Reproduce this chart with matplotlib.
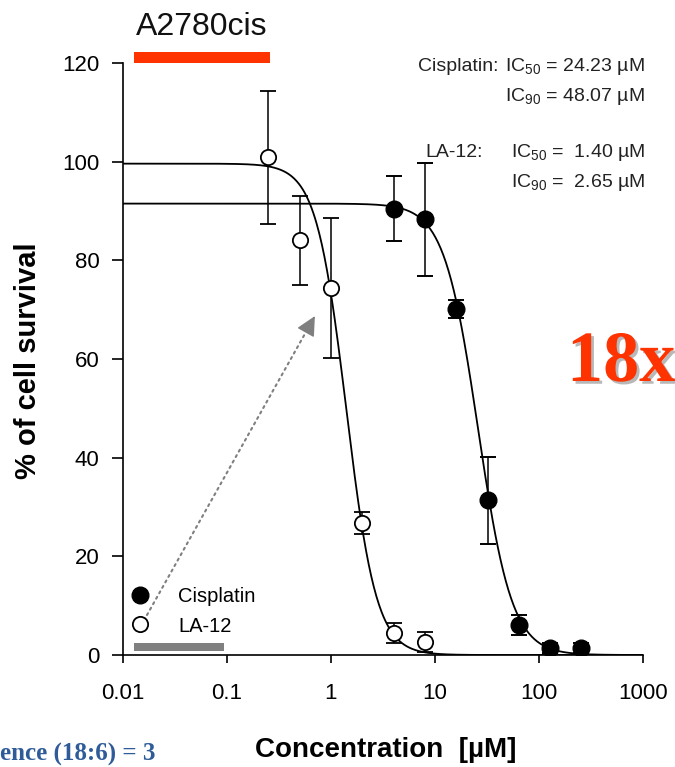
import numpy as np
import matplotlib
matplotlib.use("Agg")
import matplotlib.pyplot as plt
from matplotlib import patheffects
from matplotlib.patches import Rectangle
from matplotlib.lines import Line2D

plt.rcParams['font.family'] = ['Liberation Sans', 'DejaVu Sans']
plt.rcParams['mathtext.fontset'] = 'custom'
plt.rcParams['mathtext.rm'] = 'Liberation Sans'
plt.rcParams['mathtext.default'] = 'regular'

# ---- data ----
la12_conc = [0.25, 0.5, 1, 2, 4, 8]
la12_surv = [100.9, 84.1, 74.4, 26.7, 4.5, 2.7]
la12_err = [13.5, 9.0, 14.1, 2.2, 2.0, 2.0]

cis_conc = [4, 8, 16, 32, 64, 128, 256]
cis_surv = [90.5, 88.3, 70.1, 31.4, 6.1, 1.4, 1.4]
cis_err = [6.5, 11.4, 1.8, 8.8, 2.0, 1.0, 1.0]

# dose-response fit parameters (top plateau, IC50, IC90, Hill slope)
la12_top, la12_ic50, la12_ic90, la12_hill = 99.6, 1.40, 2.65, 3.0
cis_top, cis_ic50, cis_ic90, cis_hill = 91.5, 24.23, 48.07, 2.66

x_ticks = [0.01, 0.1, 1, 10, 100, 1000]
x_tick_labels = ["0.01", "0.1", "1", "10", "100", "1000"]
y_ticks = [0, 20, 40, 60, 80, 100, 120]


def logistic(x, top, ic50, hill):
    # midpoint chosen so that the curve crosses 50 % survival at ic50
    c = ic50 * (top / 50.0 - 1.0) ** (-1.0 / hill)
    return top / (1.0 + (x / c) ** hill)


W, H = 675, 767
fig = plt.figure(figsize=(W / 100, H / 100), dpi=100)
ax = fig.add_axes([123 / W, 1 - 655 / H, 520 / W, 592 / H])

xs = np.logspace(-2, 3, 600)
ax.plot(xs, logistic(xs, cis_top, cis_ic50, cis_hill), color='black', lw=1.3, zorder=2)
ax.plot(xs, logistic(xs, la12_top, la12_ic50, la12_hill), color='black', lw=1.3, zorder=2)

ax.errorbar(cis_conc, cis_surv, yerr=cis_err, fmt='o', ms=12, mfc='black', mec='black',
            ecolor='black', elinewidth=1.1, capsize=6, capthick=1.4, zorder=3)
ax.errorbar(la12_conc, la12_surv, yerr=la12_err, fmt='o', ms=11, mfc='white', mec='black',
            mew=1.3, ecolor='black', elinewidth=1.1, capsize=6, capthick=1.4, zorder=3)

ax.set_xscale('log')
ax.set_xlim(0.01, 1000)
ax.set_ylim(0, 120)
ax.set_xticks(x_ticks)
ax.set_xticklabels(x_tick_labels)
ax.xaxis.set_minor_locator(matplotlib.ticker.NullLocator())
ax.set_yticks(y_ticks)
ax.set_yticklabels([str(v) for v in y_ticks])
for s in ['top', 'right']:
    ax.spines[s].set_visible(False)
for s in ['left', 'bottom']:
    ax.spines[s].set_linewidth(1.2)
    ax.spines[s].set_clip_on(False)
ax.tick_params(axis='y', length=8, width=1.2, labelsize=16, pad=9)
ax.tick_params(axis='x', length=6, width=1.2, labelsize=16, pad=14)

# legend
handles = [Line2D([], [], marker='o', ls='none', ms=12, mfc='black', mec='black'),
           Line2D([], [], marker='o', ls='none', ms=11, mfc='white', mec='black', mew=1.3)]
ax.legend(handles, ['Cisplatin', 'LA-12'], loc='center left',
          bbox_to_anchor=((130 - 123) / 520, (655 - 611.5) / 592),
          frameon=False, fontsize=14.5, handlelength=1.0, handletextpad=1.4,
          labelspacing=0.5, borderpad=0, borderaxespad=0, numpoints=1)

# dotted arrow from the legend region to the LA-12 curve
arrow_tail = (0.0170, 8.1)
arrow_tip = (0.70, 68.7)
ax.annotate('', xy=arrow_tip, xytext=arrow_tail,
            arrowprops=dict(arrowstyle='-', color='#7f7f7f', lw=1.5, ls=(0, (1, 2)),
                            shrinkA=0, shrinkB=14))
head_start = (10 ** (np.log10(arrow_tail[0]) + 0.95 * (np.log10(arrow_tip[0]) - np.log10(arrow_tail[0]))),
              arrow_tail[1] + 0.95 * (arrow_tip[1] - arrow_tail[1]))
ax.annotate('', xy=arrow_tip, xytext=head_start,
            arrowprops=dict(arrowstyle='-|>,head_length=1.0,head_width=0.5',
                            color='#7f7f7f', lw=1.0, shrinkA=0, shrinkB=0,
                            mutation_scale=12))

# IC annotations
txt_kw = dict(fontsize=14, color='#222222', va='baseline')
fig.text(418 / W, 1 - 71 / H, 'Cisplatin:', ha='left', **txt_kw)
fig.text(645 / W, 1 - 71 / H, 'IC$_{50}$ = %.2f \u00b5M' % cis_ic50, ha='right', **txt_kw)
fig.text(645 / W, 1 - 101 / H, 'IC$_{90}$ = %.2f \u00b5M' % cis_ic90, ha='right', **txt_kw)
fig.text(425 / W, 1 - 157 / H, 'LA-12:', ha='left', **txt_kw)
fig.text(645 / W, 1 - 157 / H, 'IC$_{50}$ =  %.2f \u00b5M' % la12_ic50, ha='right', **txt_kw)
fig.text(645 / W, 1 - 187 / H, 'IC$_{90}$ =  %.2f \u00b5M' % la12_ic90, ha='right', **txt_kw)

# title and bars
fig.text(136 / W, 1 - 35 / H, 'A2780cis', fontsize=23, ha='left', va='baseline', color='#111111')
fig.patches.append(Rectangle((134 / W, 1 - 63 / H), 136 / W, 11 / H,
                             transform=fig.transFigure, color='#ff3300', lw=0))
fig.patches.append(Rectangle((134 / W, 1 - 651 / H), 90 / W, 8 / H,
                             transform=fig.transFigure, color='#808080', lw=0))

# axis labels
fig.text(28 / W, 1 - 361 / H, '% of cell survival', rotation=90, fontsize=21,
         fontweight='bold', ha='center', va='center')
fig.text(386 / W, 1 - 750 / H, 'Concentration  [\u00b5M]', fontsize=20,
         fontweight='bold', ha='center', va='center')

# fold change
fig.text(567 / W, 1 - 381 / H, '18x', fontsize=52, family='Liberation Serif',
         fontweight='bold', color='#ff3300', ha='left', va='baseline',
         path_effects=[patheffects.withSimplePatchShadow(offset=(2, -2),
                                                         shadow_rgbFace='black', alpha=0.28)])
fig.text(0 / W, 1 - 761 / H, 'ence (18:6) = 3', fontsize=18, family='Liberation Serif',
         fontweight='bold', color='#2f5c99', ha='left', va='baseline')

fig.savefig('out.png', dpi=100)
